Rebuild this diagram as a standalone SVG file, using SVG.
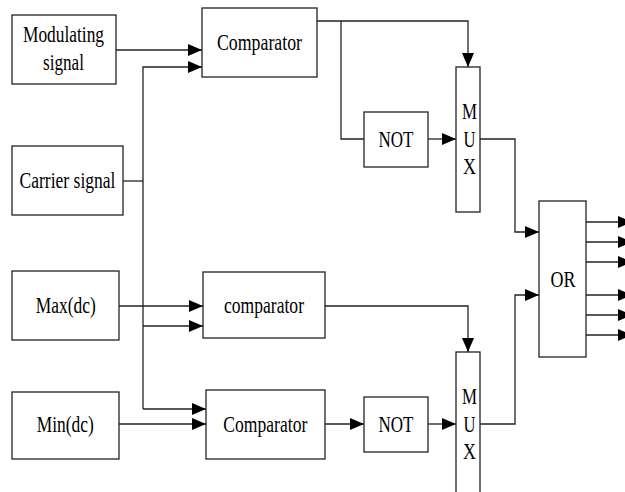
<svg xmlns="http://www.w3.org/2000/svg" width="625" height="492" viewBox="0 0 625 492">
<style>
.box{fill:#fff;stroke:#222;stroke-width:1.3}
.ln{fill:none;stroke:#222;stroke-width:1.3}
text{font-family:"Liberation Serif","Times New Roman",serif;font-size:24px;fill:#000;text-anchor:middle}
</style>
<defs>
<marker id="ar" markerUnits="userSpaceOnUse" markerWidth="14" markerHeight="12" refX="14" refY="6" orient="auto">
<path d="M0,0 L14,6 L0,12 z" fill="#000"/>
</marker>
</defs>
<rect width="625" height="492" fill="#fff"/>
<g id="connectors">
<path class="ln" d="M116,50 H202" marker-end="url(#ar)"/>
<path class="ln" d="M123,181 H143"/>
<path class="ln" d="M143,409 V67 H202" marker-end="url(#ar)"/>
<path class="ln" d="M143,326 H203" marker-end="url(#ar)"/>
<path class="ln" d="M143,409 H206" marker-end="url(#ar)"/>
<path class="ln" d="M119,306 H203" marker-end="url(#ar)"/>
<path class="ln" d="M119,424 H206" marker-end="url(#ar)"/>
<path class="ln" d="M317,21 H468 V67" marker-end="url(#ar)"/>
<path class="ln" d="M341,21 V139 H364"/>
<path class="ln" d="M428,139 H456" marker-end="url(#ar)"/>
<path class="ln" d="M480,139 H515 V232 H539" marker-end="url(#ar)"/>
<path class="ln" d="M325,306 H468 V352" marker-end="url(#ar)"/>
<path class="ln" d="M325,424 H364" marker-end="url(#ar)"/>
<path class="ln" d="M428,424 H456" marker-end="url(#ar)"/>
<path class="ln" d="M480,424 H515 V295 H539" marker-end="url(#ar)"/>
<path class="ln" d="M586,222 H632" marker-end="url(#ar)"/>
<path class="ln" d="M586,242 H632" marker-end="url(#ar)"/>
<path class="ln" d="M586,262 H632" marker-end="url(#ar)"/>
<path class="ln" d="M586,295 H632" marker-end="url(#ar)"/>
<path class="ln" d="M586,315 H632" marker-end="url(#ar)"/>
<path class="ln" d="M586,335 H632" marker-end="url(#ar)"/>
</g>
<g id="modulating"><rect class="box" x="12" y="15" width="104" height="69"/>
<text x="63.5" y="42" textLength="81" lengthAdjust="spacingAndGlyphs">Modulating</text>
<text x="63.5" y="70" textLength="41" lengthAdjust="spacingAndGlyphs">signal</text></g>
<g id="carrier"><rect class="box" x="12" y="146" width="111" height="69"/>
<text x="67.5" y="188" textLength="96" lengthAdjust="spacingAndGlyphs">Carrier signal</text></g>
<g id="max"><rect class="box" x="12" y="271" width="107" height="69"/>
<text x="65.7" y="313" textLength="60" lengthAdjust="spacingAndGlyphs">Max(dc)</text></g>
<g id="min"><rect class="box" x="12" y="392" width="107" height="67"/>
<text x="65.3" y="432" textLength="57" lengthAdjust="spacingAndGlyphs">Min(dc)</text></g>
<g id="comp1"><rect class="box" x="202" y="8" width="115" height="69"/>
<text x="259.5" y="50" textLength="85" lengthAdjust="spacingAndGlyphs">Comparator</text></g>
<g id="comp2"><rect class="box" x="203" y="272" width="122" height="66"/>
<text x="264" y="313" textLength="80" lengthAdjust="spacingAndGlyphs">comparator</text></g>
<g id="comp3"><rect class="box" x="206" y="390" width="119" height="69"/>
<text x="265.3" y="432" textLength="84" lengthAdjust="spacingAndGlyphs">Comparator</text></g>
<g id="not1"><rect class="box" x="364" y="112" width="64" height="55"/>
<text x="396" y="147" textLength="35" lengthAdjust="spacingAndGlyphs">NOT</text></g>
<g id="not2"><rect class="box" x="364" y="397" width="64" height="55"/>
<text x="396" y="432" textLength="35" lengthAdjust="spacingAndGlyphs">NOT</text></g>
<g id="mux1"><rect class="box" x="456" y="67" width="24" height="145"/>
<text x="469.5" y="118.5" textLength="15" lengthAdjust="spacingAndGlyphs">M</text>
<text x="469.5" y="146.5" textLength="12" lengthAdjust="spacingAndGlyphs">U</text>
<text x="469.5" y="174" textLength="13" lengthAdjust="spacingAndGlyphs">X</text></g>
<g id="mux2"><rect class="box" x="456" y="352" width="24" height="150"/>
<text x="469.5" y="403.5" textLength="15" lengthAdjust="spacingAndGlyphs">M</text>
<text x="469.5" y="432" textLength="12" lengthAdjust="spacingAndGlyphs">U</text>
<text x="469.5" y="458.5" textLength="13" lengthAdjust="spacingAndGlyphs">X</text></g>
<g id="or"><rect class="box" x="539" y="201" width="47" height="156"/>
<text x="563" y="287" textLength="25" lengthAdjust="spacingAndGlyphs">OR</text></g>
</svg>
